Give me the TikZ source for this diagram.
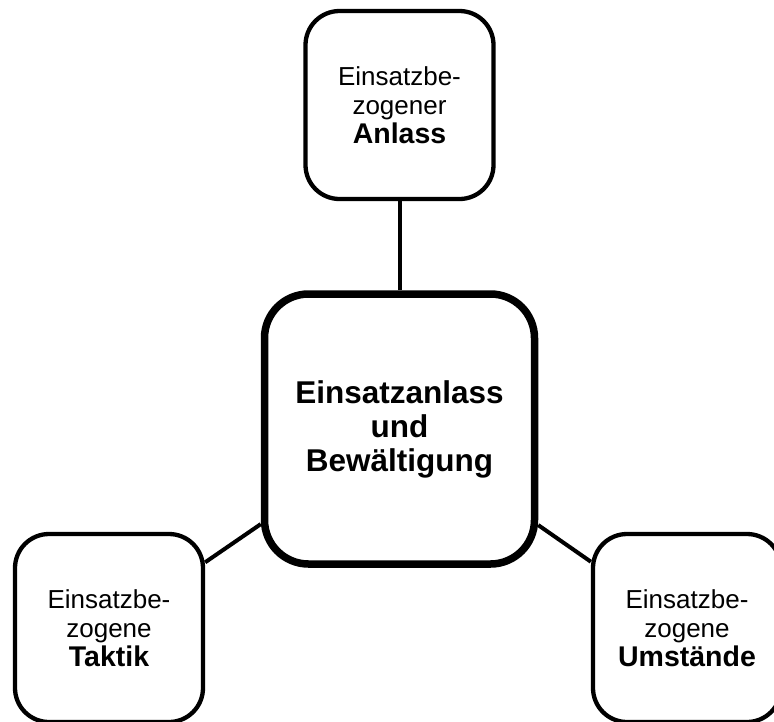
\documentclass[tikz,border=0pt]{standalone}
\usepackage{fontspec}
\setmainfont{Liberation Sans}

\begin{document}
\begin{tikzpicture}[x=1pt,y=-1pt,
    side/.style={draw, line width=4.3pt, rounded corners=34pt,
        minimum width=188pt, minimum height=188pt, align=center,
        font=\fontsize{26}{29}\selectfont},
    core/.style={draw, line width=7.5pt, rounded corners=44pt,
        minimum width=270pt, minimum height=270pt, align=center,
        font=\bfseries\fontsize{31.5}{34}\selectfont},
    link/.style={line width=4pt}]
    % Page frame (outer boxes run off the edge)
    \useasboundingbox (0,0) rectangle (774,721);
    \clip (0,0) rectangle (774,721);

    % Central box
    \node[core] (kern) at (399.5,429) {Einsatzanlass\\und\\Bewältigung};

    % Outer boxes
    \node[side] (anlass) at (399.5,105)
        {Einsatzbe-\\zogener\\{\fontsize{28.5}{29}\selectfont\bfseries Anlass}};
    \node[side] (taktik) at (109,628)
        {Einsatzbe-\\zogene\\{\fontsize{28.5}{29}\selectfont\bfseries Taktik}};
    \node[side] (umstaende) at (687,628)
        {Einsatzbe-\\zogene\\{\fontsize{28.5}{29}\selectfont\bfseries Umstände}};

    % Connectors
    \draw[link] (kern) -- (anlass);
    \draw[link] (kern) -- (taktik);
    \draw[link] (kern) -- (umstaende);
\end{tikzpicture}
\end{document}
